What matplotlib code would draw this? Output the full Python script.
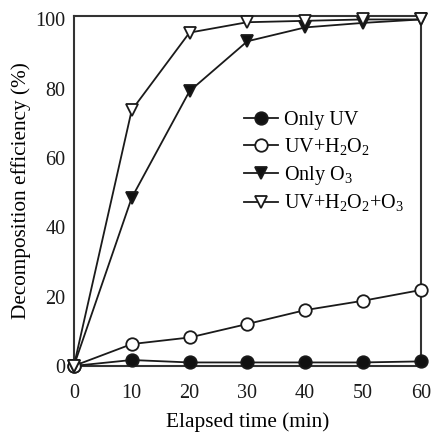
import matplotlib.pyplot as plt

plt.rcParams['font.family'] = ['Liberation Serif', 'DejaVu Serif']
plt.rcParams['mathtext.fontset'] = 'custom'
plt.rcParams['mathtext.rm'] = 'Liberation Serif'

time_min = [0, 10, 20, 30, 40, 50, 60]
only_uv = [0, 1.7, 1.0, 1.0, 1.0, 1.0, 1.3]
uv_h2o2 = [0, 6.3, 8.2, 12.1, 16.1, 18.8, 21.9]
only_o3 = [0, 48.5, 79.3, 93.7, 97.7, 99.0, 100.0]
uv_h2o2_o3 = [0, 73.8, 96.2, 99.2, 99.6, 100.0, 100.0]

labels = ["Only UV", r"UV+H$_2$O$_2$", r"Only O$_3$", r"UV+H$_2$O$_2$+O$_3$"]
series = [only_uv, uv_h2o2, only_o3, uv_h2o2_o3]
markers = ["o", "o", "v", "v"]
faces = ["#111111", "white", "#111111", "white"]

fig = plt.figure(figsize=(4.32, 4.32), dpi=100)
ax = fig.add_axes([0.171, 0.153, 0.803, 0.810])

for y, lab, m, fc in zip(series, labels, markers, faces):
    ax.plot(time_min, y, color="#1a1a1a", lw=1.3, marker=m, markersize=9,
            markerfacecolor=fc, markeredgecolor="#1a1a1a", markeredgewidth=1.3,
            label=lab, clip_on=False, zorder=3)

ax.set_xlim(0, 60)
ax.set_ylim(0, 101)
ax.set_xticks(time_min)
ax.set_yticks([0, 20, 40, 60, 80, 100])
ax.tick_params(length=0, labelsize=14.5, colors="#1a1a1a")
ax.tick_params(axis="x", pad=13)
ax.tick_params(axis="y", pad=6)
for s in ax.spines.values():
    s.set_linewidth(1.5)
    s.set_color("#333333")

ax.set_xlabel("Elapsed time (min)", fontsize=15.3, labelpad=7)
ax.set_ylabel("Decomposition efficiency (%)", fontsize=15.3, labelpad=3)

ax.legend(loc="upper left", bbox_to_anchor=(0.49, 0.728), frameon=False,
          fontsize=14.5, handlelength=1.7, handletextpad=0.3,
          labelspacing=0.3, borderpad=0, borderaxespad=0)

fig.savefig("out.png", dpi=100)
